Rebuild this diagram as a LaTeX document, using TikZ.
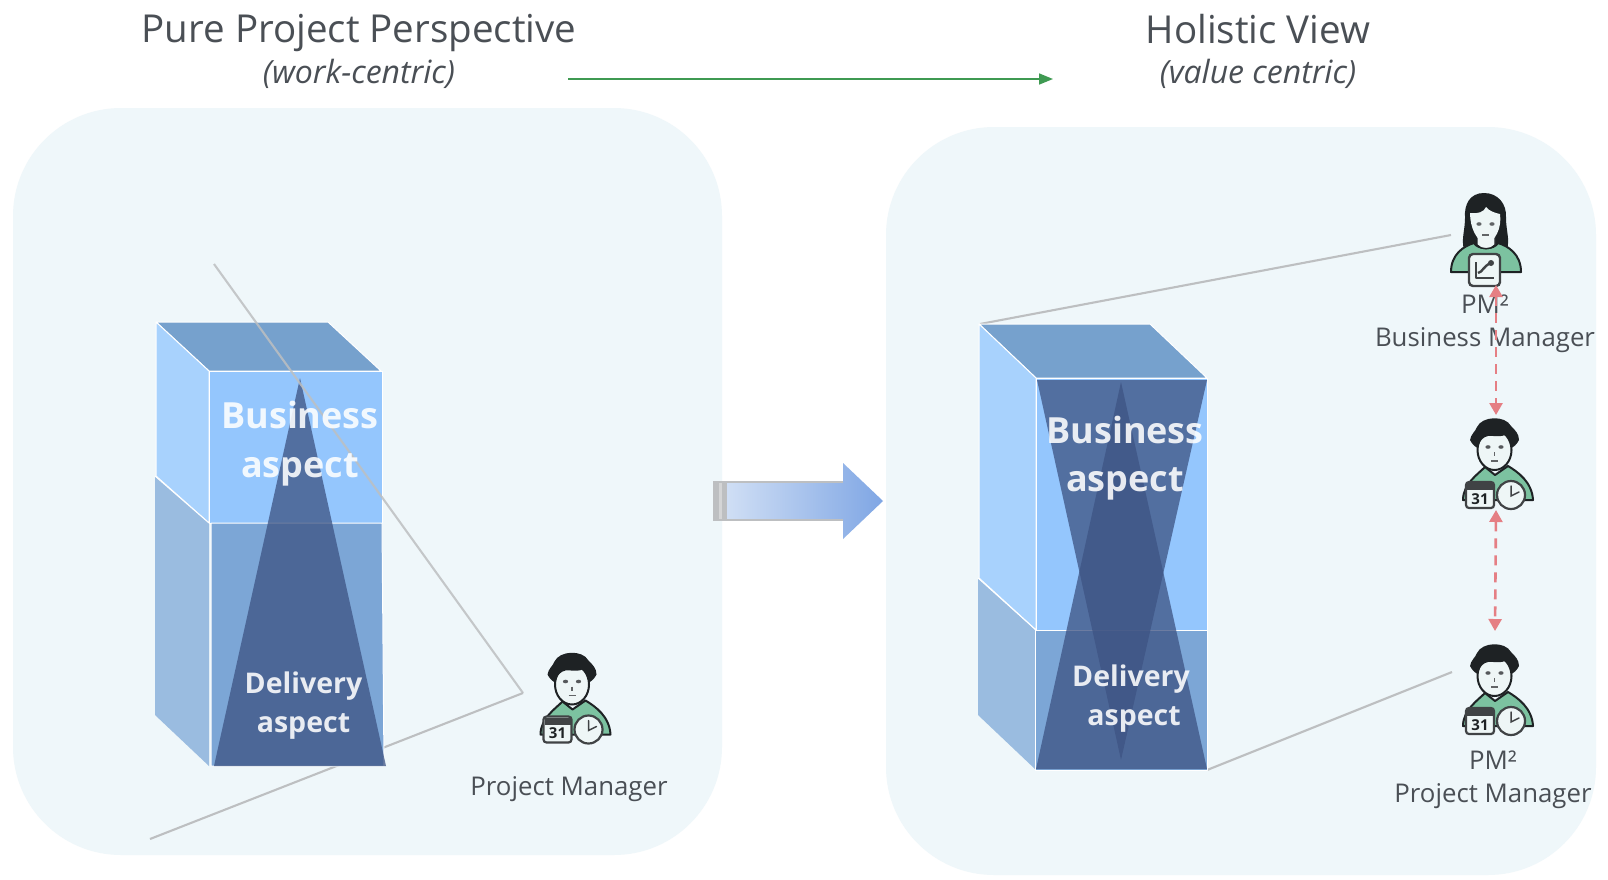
\documentclass[tikz,border=0pt]{standalone}
\usepackage{fontspec}
\setmainfont{Open Sans}
\usetikzlibrary{arrows.meta,shadings}
\definecolor{panelc}{HTML}{EFF7FA}
\definecolor{topc}{HTML}{76A1CD}
\definecolor{frontup}{HTML}{94C6FD}
\definecolor{sideup}{HTML}{A8D2FD}
\definecolor{frontlow}{HTML}{7CA6D6}
\definecolor{sidelow}{HTML}{9ABCE0}
\definecolor{cone}{HTML}{3E5484}
\definecolor{greyline}{HTML}{BDBFC1}
\definecolor{redline}{HTML}{E57F84}
\definecolor{greenline}{HTML}{3F9A52}
\definecolor{shirt}{HTML}{7CC2A0}
\definecolor{ink}{HTML}{1E2224}
\definecolor{txt}{HTML}{4A4F55}
\definecolor{skin}{HTML}{EEF6F6}
\definecolor{arrowl}{HTML}{D6E3F6}
\definecolor{arrowr}{HTML}{7FA6E4}
\tikzset{
  panel/.style={fill=panelc,draw=none,rounded corners=108pt},
  face/.style={draw=white,line width=1pt,line join=round},
  conefill/.style={fill=cone,fill opacity=.76,draw=none},
  link/.style={draw=greyline,line width=2.1pt},
  redlink/.style={draw=redline,line width=2.6pt,dash pattern=on 10pt off 7pt,{Triangle[length=12pt,width=13pt]}-{Triangle[length=12pt,width=13pt]}},
  title/.style={font=\fontsize{38.5}{44}\selectfont,text=txt,inner sep=0pt},
  subtitle/.style={font=\fontsize{32}{36}\selectfont\itshape,text=txt,inner sep=0pt},
  role/.style={font=\fontsize{25.8}{30}\selectfont,text=txt,inner sep=0pt},
  bigword/.style={font=\fontsize{36}{40}\selectfont\bfseries,text=white,text opacity=.88,inner sep=0pt},
  smallword/.style={font=\fontsize{28.5}{32}\selectfont\bfseries,text=white,text opacity=.88,inner sep=0pt},
  manpic/.pic={
    \path[fill=shirt,draw=ink,line width=2pt,line join=round] (-33,38) .. controls (-33,22) and (-18,12) .. (-11,5) -- (-1,13) -- (12,4) .. controls (22,10) and (36,20) .. (37,38) -- cycle;
    \path[fill=skin,draw=ink,line width=2pt] (-1.5,-12) ellipse [x radius=17,y radius=20];
    \fill[ink] (-26,-22) .. controls (-25,-28) and (-21,-30) .. (-19,-35) .. controls (-14,-46) and (9,-47) .. (15,-36) .. controls (19,-32) and (23,-28) .. (23,-22) .. controls (21,-18) and (18,-15) .. (15,-14) .. controls (15,-20) and (13,-24) .. (9,-27) .. controls (2,-24) and (-8,-28) .. (-11,-25) .. controls (-15,-23) and (-17,-19) .. (-18,-14) .. controls (-21,-15) and (-24,-18) .. (-26,-22) -- cycle;
    \fill[ink!75] (-8,-15) ellipse [x radius=2.6,y radius=1.8] (5,-15) ellipse [x radius=2.6,y radius=1.8];
    \draw[ink!70,line width=1.1pt] (-5,-1) -- (2,-1) (-1.5,-10) -- (-1.5,-6);
    \path[fill=skin,draw=ink!85,line width=2.2pt,rounded corners=3pt] (-30,20) rectangle (-2,46);
    \fill[ink!85] (-29,21) rectangle (-3,28);
    \node[inner sep=0pt,font=\fontsize{15}{15}\selectfont\bfseries,text=ink] at (-16,37) {31};
    \path[fill=skin,draw=ink!85,line width=2.2pt] (15,33) circle [radius=14];
    \draw[ink!85,line width=1.5pt,line cap=round] (15,24) -- (15,34) -- (23,30);
  },
  womanpic/.pic={
    \fill[ink] (-2,-47) .. controls (-16,-47) and (-22,-36) .. (-21,-22) .. controls (-21,-10) and (-25,0) .. (-22,9) -- (21,9) .. controls (24,0) and (20,-10) .. (20,-22) .. controls (21,-36) and (12,-47) .. (-2,-47) -- cycle;
    \path[fill=shirt,draw=ink,line width=2pt,line join=round] (-35,32) .. controls (-35,14) and (-22,6) .. (-12,3) .. controls (-8,10) and (8,10) .. (12,3) .. controls (22,6) and (35,14) .. (35,32) -- cycle;
    \path[fill=skin,draw=ink,line width=1.4pt] (-9,-6) -- (-9,5) .. controls (-5,10) and (5,10) .. (9,5) -- (9,-6) -- cycle;
    \path[fill=skin,draw=none] (-16,-27) .. controls (-8,-26) and (-2,-28) .. (0,-33) .. controls (3,-29) and (9,-27) .. (14,-26) .. controls (16,-12) and (9,2) .. (0,3) .. controls (-9,2) and (-16,-12) .. (-16,-27) -- cycle;
    \fill[ink!70] (-7,-16) ellipse [x radius=2.6,y radius=1.8] (6,-16) ellipse [x radius=2.6,y radius=1.8];
    \draw[ink!70,line width=1.1pt] (-4,-5) -- (3,-5);
    \path[fill=skin,draw=ink!85,line width=2.4pt,rounded corners=4pt] (-17,14) rectangle (14,46);
    \draw[ink!85,line width=2.4pt,line join=round] (-10,22) -- (-10,38) -- (8,38);
    \draw[ink!85,line width=2.4pt] (-8,33) .. controls (-3,32) and (-3,26) .. (5,23);
    \fill[ink!85] (5,23) circle [radius=3];
  }
}
\begin{document}
\begin{tikzpicture}[x=1pt,y=-1pt]
\useasboundingbox (0,0) rectangle (1608,879);
\fill[white] (0,0) rectangle (1608,879);
\path[panel] (13,108) rectangle (722,855);
\path[panel] (886,127) rectangle (1596,875);

% titles
\node[title] (t1) at (359,33) {Pure Project Perspective};
\node[subtitle] (s1) at (359,74) {(work-centric)};
\node[title] (t2) at (1258,29) {Holistic View};
\node[subtitle] (s2) at (1258,74) {(value centric)};
\coordinate (gs) at (568,79);
\coordinate (ge) at (1053,79);
\draw[draw=greenline,line width=1.6pt,-{Triangle[length=14pt,width=11pt]}] (gs) -- (ge);

% left free ends
\coordinate (lA) at (214,264);
\coordinate (lB) at (523,693);
\coordinate (lC) at (150,839);
\draw[link] (lB) -- (lC);

% left block
\path[face,fill=topc] (156,322) -- (328,322) -- (381,371) -- (209,371) -- cycle;
\path[face,fill=sideup] (156,322) -- (209,371) -- (209,523) -- (156,476) -- cycle;
\path[face,fill=sidelow,draw=none] (155,476) -- (209,523) -- (209,766) -- (155,715) -- cycle;
\draw[white,line width=1pt] (155,476) -- (209,523);
\path[face,fill=frontup] (209,371) -- (382,371) -- (382,523) -- (209,523) -- cycle;
\path[face,fill=frontlow] (211,523) -- (382,523) -- (384,766) -- (211,766) -- cycle;
\path[conefill] (300,378) -- (386,766) -- (214,766) -- cycle;
\draw[link,draw opacity=.85] (lA) -- (lB);
\node[bigword] (lb1) at (300,415) {Business};
\node[bigword] (lb2) at (300,470) {aspect};
\node[smallword] (ld1) at (303.5,686) {Delivery};
\node[smallword] (ld2) at (303.5,726) {aspect};

% big arrow
\shade[left color=arrowl,right color=arrowr]
  (714,482) -- (843,482) -- (843,463) -- (883,501) -- (843,539) -- (843,520) -- (714,520) -- cycle;
\draw[greyline,line width=1.4pt] (843,482) -- (714,482) -- (714,520) -- (843,520);
\fill[greyline] (714,482) rectangle (727,520);
\fill[white,opacity=.35] (719,483) rectangle (722,519);

% right free ends
\coordinate (rA) at (980,324);
\coordinate (rB) at (1451,235);
\coordinate (rC) at (1207,770);
\coordinate (rD) at (1452,672);
\draw[link] (rA) -- (rB);
\draw[link] (rC) -- (rD);

% right block
\path[face,fill=topc] (979,324) -- (1150,324) -- (1207,378) -- (1036,378) -- cycle;
\path[face,fill=sideup] (979,324) -- (1036,378) -- (1036,630) -- (979,578) -- cycle;
\path[fill=sidelow] (978,578) -- (1035,630) -- (1035,769) -- (978,715) -- cycle;
\draw[white,line width=1pt] (978,578) -- (1036,630);
\path[face,fill=frontup] (1036,378) -- (1207,378) -- (1207,630) -- (1036,630) -- cycle;
\path[face,fill=frontlow] (1035,630) -- (1207,630) -- (1207,770) -- (1035,770) -- cycle;
\path[conefill] (1037,380) -- (1207,380) -- (1121,760) -- cycle;
\path[conefill] (1121,382) -- (1207,769) -- (1036,769) -- cycle;
\node[bigword] (rb1) at (1125,430) {Business};
\node[bigword] (rb2) at (1125,484) {aspect};
\node[smallword] (rd1) at (1131,679) {Delivery};
\node[smallword] (rd2) at (1134,719) {aspect};

% people
\pic at (573.5,696.5) {manpic};
\node[role] (pm0) at (569,789) {Project Manager};
\pic at (1486,240) {womanpic};
\pic at (1496,462) {manpic};
\pic at (1496,688) {manpic};
\node[role] (bm1) at (1485,304.5) {PM²};
\node[role] (bm2) at (1485,340) {Business Manager};
\node[role] (pm1) at (1493,760) {PM²};
\node[role] (pm2) at (1493,796) {Project Manager};

% dashed links
\coordinate (d1) at (1496,285);
\coordinate (d2) at (1496,415);
\coordinate (d3) at (1496,510);
\coordinate (d4) at (1495,631);
\draw[redlink] (d1) -- (d2);
\draw[redlink] (d3) -- (d4);
\end{tikzpicture}
\end{document}
